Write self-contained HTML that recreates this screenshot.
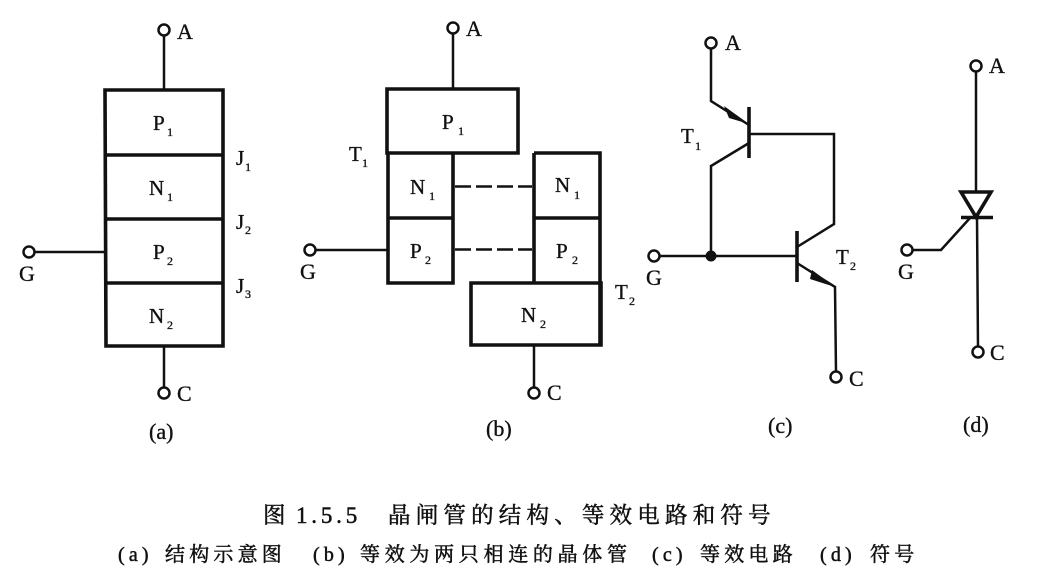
<!DOCTYPE html>
<html><head><meta charset="utf-8"><style>
html,body{margin:0;padding:0;background:#fff}
svg{display:block}
text{font-family:"Liberation Serif","Noto Serif CJK SC",serif;fill:#111;stroke:#111;stroke-width:.35}
.l{font-size:22px}
.s{font-size:12px}
.c{font-size:21px}
.t{font-size:22.500px;letter-spacing:5.200px;stroke-width:.5}
.u{font-size:20px;letter-spacing:4.200px;stroke-width:.5}
.p{font-size:21px}
.b{fill:none;stroke:#111;stroke-width:3.600}
.w{fill:none;stroke:#111;stroke-width:2.500}
.o{fill:#fff;stroke:#111;stroke-width:2.500}
</style></head><body>
<svg width="1048" height="578" viewBox="0 0 1048 578" xmlns="http://www.w3.org/2000/svg">
<rect width="1048" height="578" fill="#fff"/>
<!-- (a) -->
<path class="w" d="M164 35V90M164 346V387M35 252H105"/>
<path class="b" d="M105 90H223V346H106ZM105 155H223M106 219H223M106 283H223"/>
<circle class="o" cx="164" cy="30" r="5.500"/><circle class="o" cx="164" cy="393" r="5.500"/><circle class="o" cx="29" cy="252" r="5.500"/>
<text class="l" x="177" y="39">A</text><text class="l" x="177" y="401">C</text><text class="l" x="19" y="281">G</text>
<text class="p" x="153" y="130">P</text><text class="s" x="167" y="136">1</text>
<text class="p" x="149" y="195">N</text><text class="s" x="167" y="201">1</text>
<text class="p" x="153" y="259">P</text><text class="s" x="167" y="265">2</text>
<text class="p" x="149" y="323">N</text><text class="s" x="167" y="329">2</text>
<text class="c" x="236" y="165">J</text><text class="s" x="245" y="171">1</text>
<text class="c" x="236" y="229">J</text><text class="s" x="245" y="234">2</text>
<text class="c" x="236" y="293">J</text><text class="s" x="245" y="298">3</text>
<text class="l" x="149" y="439">(a)</text>
<!-- (b) -->
<path class="w" d="M453 34V89M534 345V387M316 250H388"/>
<path class="b" d="M387 89H518V153H387ZM388 153V283H453V153M388 218H453M534 153H600V283M534 153V283M534 218H600M471 283H601V345H471ZM600 283V345"/>
<path class="w" d="M455 186.500H532M455 249.500H532" stroke-dasharray="16 5"/>
<circle class="o" cx="453" cy="28" r="5.500"/><circle class="o" cx="534" cy="393" r="5.500"/><circle class="o" cx="310" cy="250" r="5.500"/>
<text class="l" x="466" y="36">A</text><text class="l" x="547" y="400">C</text><text class="l" x="300" y="279">G</text>
<text class="p" x="442" y="129">P</text><text class="s" x="458" y="135">1</text>
<text class="p" x="410" y="194">N</text><text class="s" x="429" y="200">1</text>
<text class="p" x="410" y="258">P</text><text class="s" x="425" y="264">2</text>
<text class="p" x="555" y="192">N</text><text class="s" x="574" y="199">1</text>
<text class="p" x="556" y="258">P</text><text class="s" x="572" y="264">2</text>
<text class="p" x="521" y="322">N</text><text class="s" x="540" y="328">2</text>
<text class="c" x="349" y="161">T</text><text class="s" x="362" y="167">1</text>
<text class="c" x="615" y="299">T</text><text class="s" x="629" y="305">2</text>
<text class="l" x="486" y="436">(b)</text>
<!-- (c) -->
<path class="w" d="M711 48V101L749 125M749 134H834V224L797 247M749 143L711 166V256M660 256H797M797 263L835 287L836 372"/>
<path class="b" d="M749 107V158M797 231V282"/>
<path d="M724 106L749 124L729 118Z" fill="#111"/>
<path d="M812 270L835 287L810 279Z" fill="#111"/>
<circle cx="711" cy="256" r="5.500" fill="#111"/>
<circle class="o" cx="711" cy="43" r="5.500"/><circle class="o" cx="654" cy="256" r="5.500"/><circle class="o" cx="836" cy="377" r="5.500"/>
<text class="l" x="725" y="50">A</text><text class="l" x="849" y="386">C</text><text class="l" x="646" y="285">G</text>
<text class="c" x="681" y="143">T</text><text class="s" x="695" y="150">1</text>
<text class="c" x="836" y="264">T</text><text class="s" x="850" y="270">2</text>
<text class="l" x="768" y="433">(c)</text>
<!-- (d) -->
<path class="w" d="M976 71V192M977 217L978 347M913 250H941L970 218"/>
<path class="b" d="M961 192H991L976 217ZM961 217.500H993"/>
<circle class="o" cx="976" cy="66" r="5.500"/><circle class="o" cx="978" cy="352" r="5.500"/><circle class="o" cx="907" cy="250" r="5.500"/>
<text class="l" x="989" y="73">A</text><text class="l" x="990" y="360">C</text><text class="l" x="898" y="279">G</text>
<text class="l" x="963" y="432">(d)</text>
<!-- caption -->
<text class="t" x="263" y="523">图</text>
<text class="t" x="296" y="523" style="letter-spacing:3.800px;font-size:23px">1.5.5</text>
<text class="t" x="388" y="523">晶闸管的结构、等效电路和符号</text>
<text class="u" x="118" y="561">(a)</text><text class="u" x="165" y="561">结构示意图</text>
<text class="u" x="313" y="561">(b)</text><text class="u" x="360" y="561" style="letter-spacing:4.700px">等效为两只相连的晶体管</text>
<text class="u" x="652" y="561">(c)</text><text class="u" x="700" y="561">等效电路</text>
<text class="u" x="820" y="561">(d)</text><text class="u" x="870" y="561">符号</text>
</svg>
</body></html>
